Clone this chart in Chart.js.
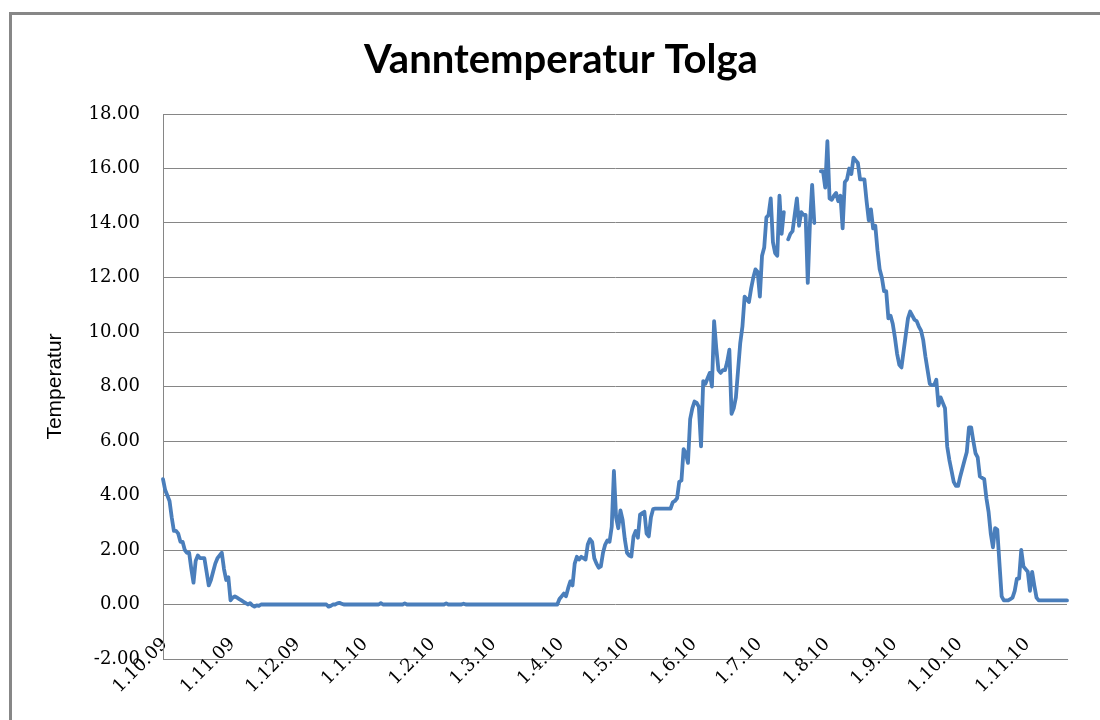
<!DOCTYPE html>
<html>
<head>
<meta charset="utf-8">
<title>Vanntemperatur Tolga</title>
<script src="https://cdn.jsdelivr.net/npm/chart.js@4.4.1/dist/chart.umd.min.js"></script>
<style>
  html, body { margin: 0; padding: 0; background: #fff; overflow: hidden; }
  #frame { position: absolute; left: 9px; top: 12px; width: 1200px; height: 800px;
           border-left: 3px solid #878787; border-top: 3px solid #878787; }
  #myChart { position: absolute; left: 0; top: 0; }
</style>
</head>
<body>
<div id="frame"></div>
<canvas id="myChart" width="1100" height="720"></canvas>
<script>
// Daglige verdier, en liste per måned (første dag: 1.10.09)
var startYear = 2009, startMonth = 9, startDay = 1;

var oct09 = [4.6, 4.2, 4.0, 3.8, 3.2, 2.7, 2.7, 2.6, 2.3, 2.3, 2.0, 1.9, 1.9, 1.3, 0.8, 1.6,
             1.8, 1.7, 1.7, 1.7, 1.2, 0.7, 0.9, 1.2, 1.5, 1.7, 1.8, 1.9, 1.3, 0.9, 1.0];
var nov09 = [0.15, 0.25, 0.3, 0.25, 0.2, 0.15, 0.1, 0.05, 0, 0.05, -0.03, -0.08, -0.03, -0.05, 0,
             0, 0, 0, 0, 0, 0, 0, 0, 0, 0, 0, 0, 0, 0, 0];
var dec09 = [0, 0, 0, 0, 0, 0, 0, 0, 0, 0, 0, 0, 0, 0, 0, -0.08, -0.05, 0, 0, 0.04,
             0.06, 0.03, 0, 0, 0, 0, 0, 0, 0, 0, 0];
var jan10 = [0, 0, 0, 0, 0, 0, 0, 0, 0.05, 0, 0, 0, 0, 0, 0, 0, 0, 0, 0, 0.04,
             0, 0, 0, 0, 0, 0, 0, 0, 0, 0, 0];
var feb10 = [0, 0, 0, 0, 0, 0, 0, 0.04, 0, 0, 0, 0, 0, 0, 0, 0.03, 0, 0, 0, 0,
             0, 0, 0, 0, 0, 0, 0, 0];
var mar10 = [0, 0, 0, 0, 0, 0, 0, 0, 0, 0, 0, 0, 0, 0, 0, 0, 0, 0, 0, 0,
             0, 0, 0, 0, 0, 0, 0, 0, 0, 0, 0];
var apr10 = [0.2, 0.3, 0.4, 0.3, 0.6, 0.85, 0.7, 1.5, 1.75, 1.65, 1.75, 1.7, 1.65, 2.2, 2.4,
             2.3, 1.7, 1.5, 1.35, 1.4, 1.9, 2.2, 2.35, 2.3, 2.85, 4.9, 3.2, 2.8, 3.45, 3.1];
var may10 = [2.4, 1.9, 1.8, 1.76, 2.5, 2.7, 2.45, 3.3, 3.35, 3.4, 2.6, 2.5, 3.2, 3.5, 3.52,
             3.52, 3.52, 3.52, 3.52, 3.52, 3.52, 3.52, 3.75, 3.8, 3.9, 4.5, 4.55, 5.7, 5.55, 5.2, 6.8];
var jun10 = [7.2, 7.45, 7.4, 7.25, 5.8, 8.2, 8.1, 8.3, 8.5, 8.0, 10.4, 9.4, 8.6, 8.5, 8.6,
             8.6, 8.9, 9.35, 7.0, 7.2, 7.6, 8.6, 9.6, 10.2, 11.3, 11.2, 11.1, 11.6, 12.0, 12.3];
var jul10 = [12.2, 11.3, 12.8, 13.1, 14.2, 14.3, 14.9, 13.3, 12.9, 12.8, 15.0, 13.6, 14.4, null, 13.4,
             13.6, 13.7, 14.3, 14.9, 13.9, 14.4, 14.3, 14.3, 11.8, 14.0, 15.4, 14.0, null, null, 15.9, 15.9];
var aug10 = [15.3, 17.0, 14.9, 14.85, 15.0, 15.1, 14.8, 15.0, 13.8, 15.5, 15.6, 16.0, 15.8, 16.4, 16.3,
             16.2, 15.6, 15.6, 15.6, 14.8, 14.1, 14.5, 13.8, 13.9, 13.0, 12.3, 12.0, 11.5, 11.5, 10.5, 10.6];
var sep10 = [10.3, 9.8, 9.2, 8.8, 8.7, 9.3, 9.9, 10.5, 10.75, 10.6, 10.45, 10.4, 10.2, 10.05, 9.7,
             9.1, 8.6, 8.1, 8.05, 8.05, 8.25, 7.3, 7.6, 7.4, 7.2, 5.8, 5.3, 4.9, 4.5, 4.35];
var oct10 = [4.35, 4.7, 5.0, 5.3, 5.6, 6.5, 6.5, 6.0, 5.55, 5.4, 4.7, 4.65, 4.6, 3.9, 3.4,
             2.6, 2.1, 2.8, 2.75, 1.5, 0.3, 0.15, 0.15, 0.15, 0.2, 0.25, 0.5, 0.95, 0.95, 2.0, 1.4];
var nov10 = [1.3, 1.2, 0.5, 1.2, 0.7, 0.25, 0.15, 0.15, 0.15, 0.15, 0.15, 0.15, 0.15, 0.15, 0.15,
             0.15, 0.15, 0.15, 0.15, 0.15];

var yMin = -2, yMax = 18, yStep = 2;

var temps = [].concat(oct09, nov09, dec09, jan10, feb10, mar10, apr10,
                      may10, jun10, jul10, aug10, sep10, oct10, nov10);

// datoetiketter d.m.yy for hver dag
var labels = temps.map(function(v, i) {
    var d = new Date(startYear, startMonth, startDay + i);
    return d.getDate() + '.' + (d.getMonth() + 1) + '.' + String(d.getFullYear()).slice(2);
});

var gridColor = '#868686';
var tickFont = { family: '"DejaVu Serif", "Liberation Serif", serif', size: 18 };

var ctx = document.getElementById('myChart').getContext('2d');
var myChart = new Chart(ctx, {
    type: 'line',
    data: {
        labels: labels,
        datasets: [{
            label: 'Temperatur',
            data: temps,
            borderColor: '#4a7ebb',
            borderWidth: 3.8,
            pointRadius: 0,
            tension: 0,
            spanGaps: false,
            borderJoinStyle: 'round',
            borderCapStyle: 'round'
        }]
    },
    options: {
        responsive: false,
        animation: false,
        layout: { padding: { left: 55, right: 33, top: 0, bottom: 0 } },
        plugins: {
            legend: { display: false },
            tooltip: { enabled: false },
            title: {
                display: true,
                text: 'Vanntemperatur Tolga',
                color: '#000',
                font: { family: 'Lato, "Open Sans", sans-serif', size: 40, weight: 'bold' },
                padding: { top: 36, bottom: 30 }
            }
        },
        scales: {
            x: {
                offset: false,
                grid: { display: false, drawTicks: false },
                border: { display: true, color: gridColor, width: 1 },
                ticks: {
                    autoSkip: false,
                    maxRotation: 45,
                    minRotation: 45,
                    mirror: true,      // ellers klippes etikettene ved aksen
                    padding: 10,
                    labelOffset: 17,
                    color: '#000',
                    font: tickFont,
                    callback: function(val, i) {
                        var l = labels[i];
                        return l.indexOf('1.') === 0 ? l : null;
                    }
                },
                afterFit: function(s) { s.height = 61; }
            },
            y: {
                min: yMin,
                max: yMax,
                grid: { color: gridColor, lineWidth: 1, drawTicks: false },
                border: { display: true, color: gridColor, width: 1 },
                ticks: {
                    stepSize: yStep,
                    padding: 23,
                    color: '#000',
                    font: tickFont,
                    callback: function(v) { return v.toFixed(2); }
                },
                title: {
                    display: true,
                    text: 'Temperatur',
                    color: '#000',
                    font: { family: '"Liberation Sans", Arial, sans-serif', size: 21 },
                    padding: { top: -12, bottom: 0 }
                },
                afterFit: function(s) { s.width = 108; }
            }
        }
    }
});
</script>
</body>
</html>
